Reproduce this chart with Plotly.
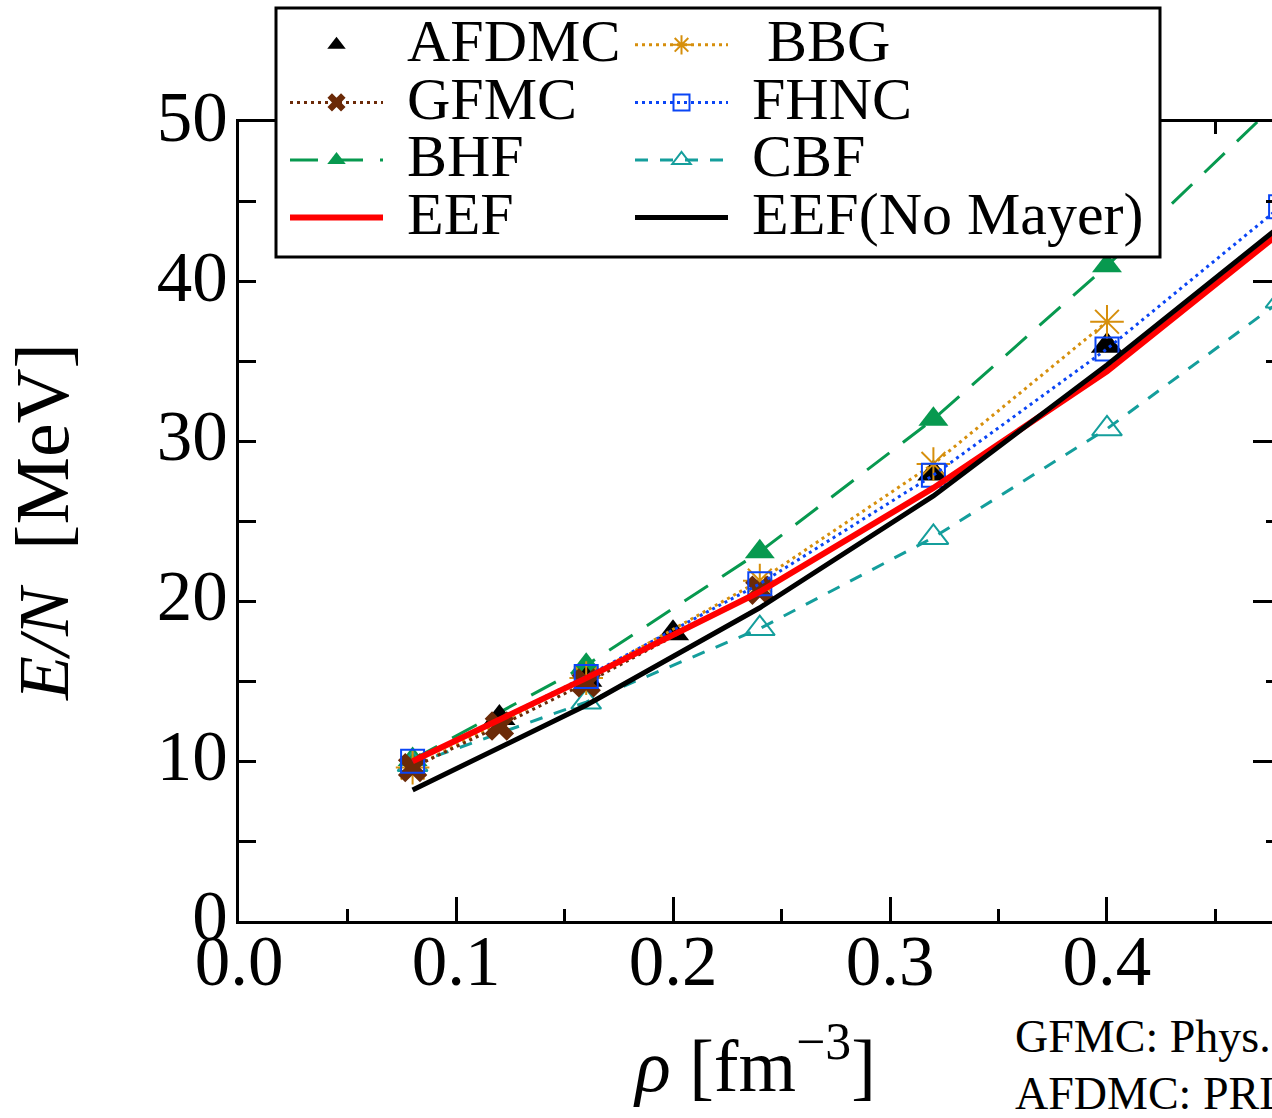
import plotly.graph_objects as go

# ---------------- data ----------------
afdmc_x = [0.12, 0.16, 0.20, 0.32, 0.40]
afdmc_y = [12.7, 15.1, 18.0, 28.0, 36.0]

gfmc_x = [0.08, 0.12, 0.16, 0.24]
gfmc_y = [9.6, 12.2, 14.9, 20.7]

bhf_x = [0.08, 0.16, 0.24, 0.32, 0.40, 0.48]
bhf_y = [10.1, 16.0, 23.1, 31.4, 41.0, 51.4]

eef_x = [0.08, 0.16, 0.24, 0.32, 0.40, 0.48]
eef_y = [10.0, 15.2, 20.6, 27.1, 34.4, 43.1]

bbg_x = [0.08, 0.16, 0.24, 0.32, 0.40]
bbg_y = [9.6, 15.2, 21.3, 28.6, 37.5]

fhnc_x = [0.08, 0.16, 0.24, 0.32, 0.40, 0.48]
fhnc_y = [10.0, 15.3, 21.1, 27.9, 35.8, 44.7]

cbf_x = [0.08, 0.16, 0.24, 0.32, 0.40, 0.48]
cbf_y = [9.8, 13.7, 18.3, 24.0, 30.8, 38.8]

eefnm_x = [0.08, 0.16, 0.24, 0.32, 0.40, 0.48]
eefnm_y = [8.2, 13.5, 19.6, 26.6, 34.8, 43.5]

x_ticks = [0.0, 0.1, 0.2, 0.3, 0.4]
x_ticklabels = ["0.0", "0.1", "0.2", "0.3", "0.4"]
y_ticks = [0, 10, 20, 30, 40, 50]
y_ticklabels = ["0", "10", "20", "30", "40", "50"]

refs = ["GFMC: Phys. Rev. C 79, 054331 (2009)", "AFDMC: PRL 101, 132501 (2008)"]

FONT = "Liberation Serif"


def nm(s):
    return ('<span style="font-size:76px">\u00a0</span>'
            '<span style="font-size:60px">' + s + "</span>")


fig = go.Figure()

fig.add_trace(go.Scatter(
    x=bhf_x, y=bhf_y, name=nm("BHF"), mode="lines+markers",
    legend="legend", legendrank=3,
    line=dict(color="#07994f", width=3, dash="28px,17px"),
    marker=dict(symbol="triangle-up", size=26, color="#07994f")))
fig.add_trace(go.Scatter(
    x=cbf_x, y=cbf_y, name=nm("CBF"), mode="lines+markers",
    legend="legend2", legendrank=3,
    line=dict(color="#149e9c", width=3, dash="13px,12px"),
    marker=dict(symbol="triangle-up-open", size=26, color="#149e9c",
                line=dict(width=2, color="#149e9c"))))
fig.add_trace(go.Scatter(
    x=afdmc_x, y=afdmc_y, name=nm("AFDMC"), mode="markers",
    legend="legend", legendrank=1,
    marker=dict(symbol="triangle-up", size=28, color="black")))
fig.add_trace(go.Scatter(
    x=bbg_x, y=bbg_y, name=nm(" BBG"), mode="lines+markers",
    legend="legend2", legendrank=1,
    line=dict(color="#d68f0c", width=3, dash="3px,4px"),
    marker=dict(symbol="asterisk-open", size=28, color="#d68f0c",
                line=dict(width=2, color="#d68f0c"))))
fig.add_trace(go.Scatter(
    x=gfmc_x, y=gfmc_y, name=nm("GFMC"), mode="lines+markers",
    legend="legend", legendrank=2,
    line=dict(color="#6b2a08", width=3, dash="3px,4px"),
    marker=dict(symbol="x", size=26, color="#6b2a08")))
fig.add_trace(go.Scatter(
    x=fhnc_x, y=fhnc_y, name=nm("FHNC"), mode="lines+markers",
    legend="legend2", legendrank=2,
    line=dict(color="#0a45f5", width=3, dash="3px,4px"),
    marker=dict(symbol="square-open", size=23, color="#0a45f5",
                line=dict(width=2, color="#0a45f5"))))
fig.add_trace(go.Scatter(
    x=eef_x, y=eef_y, name=nm("EEF"), mode="lines",
    legend="legend", legendrank=4,
    line=dict(color="#ff0000", width=6)))
fig.add_trace(go.Scatter(
    x=eefnm_x, y=eefnm_y, name=nm("EEF(No Mayer)"), mode="lines",
    legend="legend2", legendrank=4,
    line=dict(color="black", width=5)))

# invisible trace to carry right-hand y ticks
fig.add_trace(go.Scatter(x=[None], y=[None], yaxis="y2", showlegend=False,
                         hoverinfo="skip"))

W, H = 1272, 1118
L, R, T, B = 239, 0, 122, 197
PW, PH = W - L - R, H - T - B


def px_x(p):
    return (p - L) / PW


def px_y(p):
    return (H - B - p) / PH


legend_common = dict(
    orientation="v", xanchor="left", yanchor="top",
    bgcolor="rgba(0,0,0,0)", borderwidth=0,
    font=dict(family=FONT, size=42, color="black"),
    itemwidth=93, traceorder="normal", itemsizing="trace",
)

fig.update_layout(
    width=W, height=H,
    margin=dict(l=L, r=R, t=T, b=B, autoexpand=False),
    paper_bgcolor="white", plot_bgcolor="white",
    font=dict(family=FONT, color="black", size=70),
    showlegend=True,
    legend=dict(x=px_x(285), y=px_y(11), **legend_common),
    legend2=dict(x=px_x(630), y=px_y(11), **legend_common),
    xaxis=dict(
        range=[0, 0.47604], tickmode="array", tickvals=x_ticks, ticktext=x_ticklabels,
        ticks="inside", ticklen=24, tickwidth=3, tickcolor="black",
        showline=True, linewidth=3, linecolor="black", mirror="ticks",
        showgrid=False, zeroline=False, automargin=False,
        tickfont=dict(family=FONT, size=71), ticklabelstandoff=-24,
        minor=dict(ticks="inside", ticklen=12, tickwidth=3, tickcolor="black",
                   dtick=0.05, tick0=0, showgrid=False),
        title=dict(text="<i>ρ</i> [fm<sup>−3</sup>]", font=dict(family=FONT, size=74),
                   standoff=40),
    ),
    yaxis=dict(
        range=[0, 50], tickmode="array", tickvals=y_ticks, ticktext=y_ticklabels,
        ticks="inside", ticklen=17, tickwidth=3, tickcolor="black",
        showline=True, linewidth=3, linecolor="black", mirror=False,
        showgrid=False, zeroline=False, automargin=False,
        tickfont=dict(family=FONT, size=71), ticklabelstandoff=-6, ticklabelshift=-6,
        minor=dict(ticks="inside", ticklen=17, tickwidth=3, tickcolor="black",
                   dtick=5, tick0=0, showgrid=False),
        title=dict(text='<span style="font-size:72px"><i>E/N</i></span>'
                        '\u00a0\u00a0[MeV]',
                   font=dict(family=FONT, size=76), standoff=72),
    ),
    yaxis2=dict(
        range=[0, 50], overlaying="y", side="right", anchor="x",
        tickmode="array", tickvals=y_ticks, showticklabels=False,
        ticks="inside", ticklen=19, tickwidth=3, tickcolor="black",
        showline=False, showgrid=False, zeroline=False, automargin=False,
        minor=dict(ticks="inside", ticklen=6, tickwidth=3, tickcolor="black",
                   dtick=5, tick0=0, showgrid=False),
    ),
)

# legend frame (white box with black border, drawn above the data)
fig.add_shape(type="rect", xref="paper", yref="paper",
              x0=px_x(276), x1=px_x(1160), y0=px_y(257), y1=px_y(8),
              line=dict(color="black", width=3), fillcolor="white", layer="above")

fig.add_annotation(text=refs[0], xref="paper", yref="paper",
                   x=px_x(1013), y=px_y(1036),
                   xanchor="left", yanchor="middle", showarrow=False,
                   font=dict(family=FONT, size=46, color="black"))
fig.add_annotation(text=refs[1], xref="paper", yref="paper",
                   x=px_x(1013), y=px_y(1093),
                   xanchor="left", yanchor="middle", showarrow=False,
                   font=dict(family=FONT, size=46, color="black"))

fig.write_html("out.html")
